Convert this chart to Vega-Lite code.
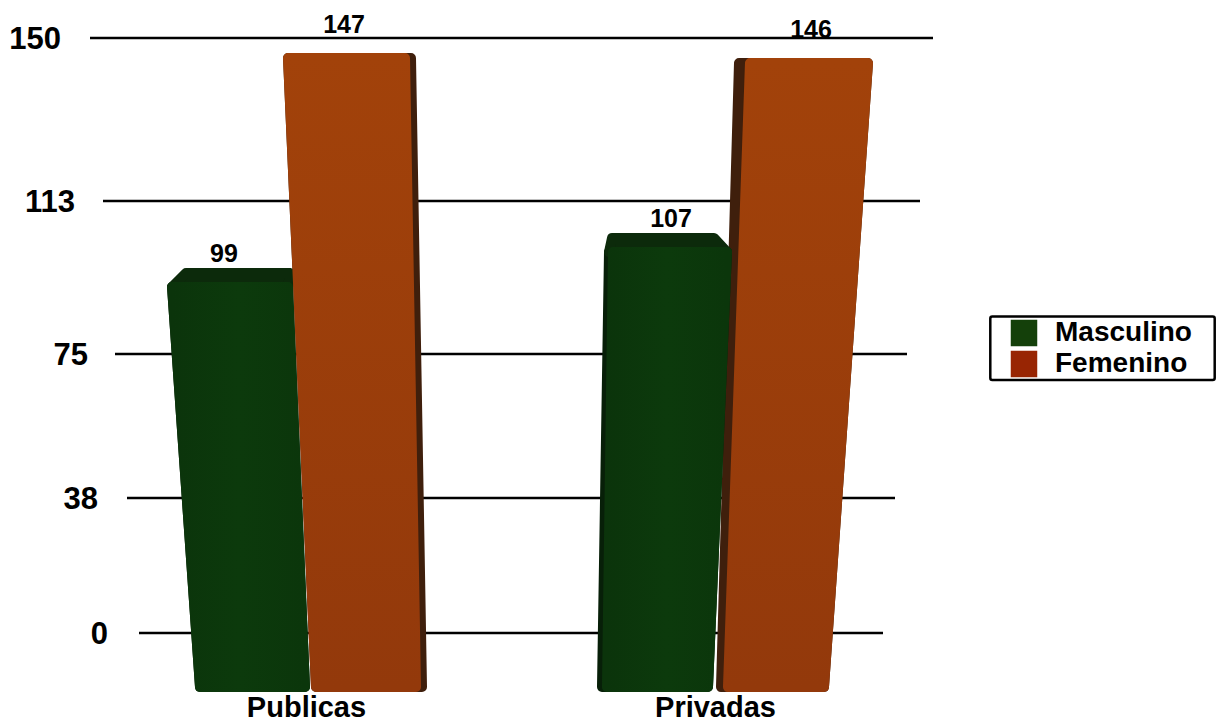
{
  "$schema": "https://vega.github.io/schema/vega-lite/v6.json",
  "width": 1217,
  "height": 721,
  "padding": 0,
  "autosize": "none",
  "background": "white",
  "config": {"view": {"stroke": null}, "text": {"font": "Liberation Sans", "fontWeight": "bold", "fill": "black"}},
  "datasets": {
    "barras": [
      {"sede": "Publicas", "sexo": "Masculino", "valor": 99},
      {"sede": "Publicas", "sexo": "Femenino", "valor": 147},
      {"sede": "Privadas", "sexo": "Femenino", "valor": 146},
      {"sede": "Privadas", "sexo": "Masculino", "valor": 107}
    ],
    "marcas": [{"marca": 0}, {"marca": 38}, {"marca": 75}, {"marca": 113}, {"marca": 150}],
    "sedes": [{"sede": "Publicas"}, {"sede": "Privadas"}],
    "marco": [{"parte": "leyenda"}]
  },
  "data": {"name": "barras"},
  "transform": [
    {"calculate": "datum.sede + '|' + datum.sexo", "as": "barra"},
    {"calculate": "-17", "as": "piso"},
    {"calculate": "{'Publicas|Masculino': {bi: 200, bd: 305, ti: 172, td: 288, fbi: 200, fbd: 305, fti: 172, ftd: 288, cbi: 186, cbd: 290, prof: 3.2, etiqueta: 224}, 'Publicas|Femenino': {bi: 316, bd: 422, ti: 288, td: 411, fbi: 316, fbd: 416, fti: 288, ftd: 405, cbi: 288, cbd: 411, prof: 0, etiqueta: 344}, 'Privadas|Masculino': {bi: 602, bd: 708, ti: 609, td: 727, fbi: 607, fbd: 708, fti: 613, ftd: 727, cbi: 612, cbd: 714, prof: 1.65, etiqueta: 671}, 'Privadas|Femenino': {bi: 721, bd: 824, ti: 739, td: 868, fbi: 728, fbd: 824, fti: 750, ftd: 868, cbi: 739, cbd: 868, prof: 0, etiqueta: 811}}[datum.barra]", "as": "geo"}
  ],
  "layer": [
    {
      "data": {"name": "marcas"},
      "transform": [
        {"calculate": "{'0': 139, '38': 127, '75': 115, '113': 103, '150': 90}[datum.marca]", "as": "izq"},
        {"calculate": "{'0': 883, '38': 895, '75': 907, '113': 920, '150': 933}[datum.marca]", "as": "der"}
      ],
      "mark": {"type": "rule", "color": "black", "strokeWidth": 2.5},
      "encoding": {
        "x": {"field": "izq", "type": "quantitative", "axis": null, "scale": {"domain": [0, 1217], "range": [0, 1217]}},
        "x2": {"field": "der"},
        "y": {"field": "marca", "type": "quantitative", "axis": null, "scale": {"domain": [-25, -17, 0, 38, 75, 99, 107, 113, 146, 147, 150, 160], "range": [721, 687, 633, 498, 354, 287, 252, 201, 63, 58, 38, 0], "nice": false, "zero": false}}
      }
    },
    {
      "data": {"name": "marcas"},
      "transform": [
        {"calculate": "{'0': 108, '38': 98, '75': 88, '113': 75, '150': 61}[datum.marca]", "as": "fin"}
      ],
      "mark": {"type": "text", "align": "right", "baseline": "middle", "fontSize": 31, "dy": 2},
      "encoding": {
        "x": {"field": "fin", "type": "quantitative", "axis": null, "scale": {"domain": [0, 1217], "range": [0, 1217]}},
        "y": {"field": "marca", "type": "quantitative", "axis": null},
        "text": {"field": "marca", "type": "quantitative"}
      }
    },
    {
      "data": {"name": "sedes"},
      "transform": [
        {"calculate": "datum.sede === 'Publicas' ? 306.5 : 715.5", "as": "centro"},
        {"calculate": "-17", "as": "piso"}
      ],
      "mark": {"type": "text", "align": "center", "baseline": "middle", "fontSize": 29, "dy": 21},
      "encoding": {
        "x": {"field": "centro", "type": "quantitative", "axis": null, "scale": {"domain": [0, 1217], "range": [0, 1217]}},
        "y": {"field": "piso", "type": "quantitative", "axis": null},
        "text": {"field": "sede", "type": "nominal"}
      }
    },
    {
      "transform": [
        {"calculate": "datum.geo.etiqueta", "as": "centro"}
      ],
      "mark": {"type": "text", "align": "center", "baseline": "alphabetic", "fontSize": 25, "dy": -25},
      "encoding": {
        "x": {"field": "centro", "type": "quantitative", "axis": null, "scale": {"domain": [0, 1217], "range": [0, 1217]}},
        "y": {"field": "valor", "type": "quantitative", "axis": null},
        "text": {"field": "valor", "type": "quantitative"}
      }
    },
    {
      "transform": [
        {"fold": ["valor", "piso"], "as": ["extremo", "nivel"]},
        {"calculate": "datum.extremo === 'valor' ? datum.geo.ti : datum.geo.bi", "as": "izq"},
        {"calculate": "datum.extremo === 'valor' ? datum.geo.td : datum.geo.bd", "as": "der"}
      ],
      "mark": {"type": "area", "orient": "horizontal", "strokeWidth": 10, "strokeJoin": "round"},
      "encoding": {
        "y": {"field": "nivel", "type": "quantitative", "axis": null},
        "x": {"field": "izq", "type": "quantitative", "axis": null, "scale": {"domain": [0, 1217], "range": [0, 1217]}},
        "x2": {"field": "der"},
        "detail": {"field": "barra"},
        "fill": {"condition": {"test": "datum.sexo === 'Masculino'", "value": "#071f08"}, "value": "#3f1f0c"},
        "stroke": {"condition": {"test": "datum.sexo === 'Masculino'", "value": "#071f08"}, "value": "#3f1f0c"}
      }
    },
    {
      "transform": [
        {"filter": "datum.sexo === 'Masculino'"},
        {"calculate": "datum.valor + datum.geo.prof", "as": "fondo"},
        {"fold": ["valor", "fondo"], "as": ["extremo", "nivel"]},
        {"calculate": "datum.extremo === 'valor' ? datum.geo.ti : datum.geo.cbi", "as": "izq"},
        {"calculate": "datum.extremo === 'valor' ? datum.geo.td : datum.geo.cbd", "as": "der"}
      ],
      "mark": {"type": "area", "orient": "horizontal", "fill": "#0c2a0b", "stroke": "#0c2a0b", "strokeWidth": 10, "strokeJoin": "round"},
      "encoding": {
        "y": {"field": "nivel", "type": "quantitative", "axis": null},
        "x": {"field": "izq", "type": "quantitative", "axis": null, "scale": {"domain": [0, 1217], "range": [0, 1217]}},
        "x2": {"field": "der"},
        "detail": {"field": "barra"}
      }
    },
    {
      "transform": [
        {"filter": "datum.sexo === 'Masculino'"},
        {"fold": ["valor", "piso"], "as": ["extremo", "nivel"]},
        {"calculate": "datum.extremo === 'valor' ? datum.geo.fti : datum.geo.fbi", "as": "izq"},
        {"calculate": "datum.extremo === 'valor' ? datum.geo.ftd : datum.geo.fbd", "as": "der"}
      ],
      "mark": {
        "type": "area", "orient": "horizontal", "strokeWidth": 10, "strokeJoin": "round",
        "fill": {"gradient": "linear", "x1": 0, "y1": 0, "x2": 1, "y2": 0, "stops": [{"offset": 0, "color": "#0b340b"}, {"offset": 0.5, "color": "#0c3a0c"}, {"offset": 1, "color": "#0b360b"}]},
        "stroke": {"gradient": "linear", "x1": 0, "y1": 0, "x2": 1, "y2": 0, "stops": [{"offset": 0, "color": "#0b340b"}, {"offset": 0.5, "color": "#0c3a0c"}, {"offset": 1, "color": "#0b360b"}]}
      },
      "encoding": {
        "y": {"field": "nivel", "type": "quantitative", "axis": null},
        "x": {"field": "izq", "type": "quantitative", "axis": null, "scale": {"domain": [0, 1217], "range": [0, 1217]}},
        "x2": {"field": "der"},
        "detail": {"field": "barra"}
      }
    },
    {
      "transform": [
        {"filter": "datum.sexo === 'Femenino'"},
        {"fold": ["valor", "piso"], "as": ["extremo", "nivel"]},
        {"calculate": "datum.extremo === 'valor' ? datum.geo.fti : datum.geo.fbi", "as": "izq"},
        {"calculate": "datum.extremo === 'valor' ? datum.geo.ftd : datum.geo.fbd", "as": "der"}
      ],
      "mark": {
        "type": "area", "orient": "horizontal", "strokeWidth": 10, "strokeJoin": "round",
        "fill": {"gradient": "linear", "x1": 0, "y1": 0, "x2": 0, "y2": 1, "stops": [{"offset": 0, "color": "#a2420a"}, {"offset": 1, "color": "#93390b"}]},
        "stroke": {"gradient": "linear", "x1": 0, "y1": 0, "x2": 0, "y2": 1, "stops": [{"offset": 0, "color": "#a2420a"}, {"offset": 1, "color": "#93390b"}]}
      },
      "encoding": {
        "y": {"field": "nivel", "type": "quantitative", "axis": null},
        "x": {"field": "izq", "type": "quantitative", "axis": null, "scale": {"domain": [0, 1217], "range": [0, 1217]}},
        "x2": {"field": "der"},
        "detail": {"field": "barra"}
      }
    },
    {
      "data": {"name": "marco"},
      "transform": [
        {"calculate": "990.3", "as": "izq"},
        {"calculate": "1214.7", "as": "der"},
        {"calculate": "88.4", "as": "arriba"},
        {"calculate": "68.3", "as": "abajo"}
      ],
      "mark": {"type": "rect", "fill": "white", "stroke": "black", "strokeWidth": 2.5, "cornerRadius": 2},
      "encoding": {
        "x": {"field": "izq", "type": "quantitative", "axis": null, "scale": {"domain": [0, 1217], "range": [0, 1217]}},
        "x2": {"field": "der"},
        "y": {"field": "arriba", "type": "quantitative", "axis": null},
        "y2": {"field": "abajo"}
      }
    },
    {
      "mark": {"type": "square", "opacity": 0},
      "encoding": {
        "y": {"field": "valor", "type": "quantitative", "axis": null},
        "fill": {
          "field": "sexo",
          "type": "nominal",
          "scale": {
            "domain": ["Masculino", "Femenino"],
            "range": ["#14400a", "#982503"]
          },
          "legend": {
            "orient": "none",
            "legendX": 990,
            "legendY": 316,
            "title": null,
            "padding": 3,
            "symbolType": "square",
            "symbolSize": 702,
            "symbolOpacity": 1,
            "symbolStrokeWidth": 0,
            "symbolOffset": 17,
            "labelOffset": 17,
            "labelFont": "Liberation Sans",
            "labelFontWeight": "bold",
            "labelFontSize": 28,
            "labelColor": "black",
            "labelLimit": 400,
            "rowPadding": 3,
            "encode": {
              "symbols": {
                "update": {
                  "fill": {"signal": "datum.value === 'Masculino' ? {gradient: 'radial', x1: 0.5, y1: 0.5, r1: 0, x2: 0.5, y2: 0.5, r2: 0.7, stops: [{offset: 0, color: '#063d08'}, {offset: 1, color: '#2f3b02'}]} : {gradient: 'radial', x1: 0.5, y1: 0.5, r1: 0, x2: 0.5, y2: 0.5, r2: 0.7, stops: [{offset: 0, color: '#a23f06'}, {offset: 1, color: '#8d0f00'}]}"}
                }
              }
            }
          }
        }
      }
    }
  ]
}
